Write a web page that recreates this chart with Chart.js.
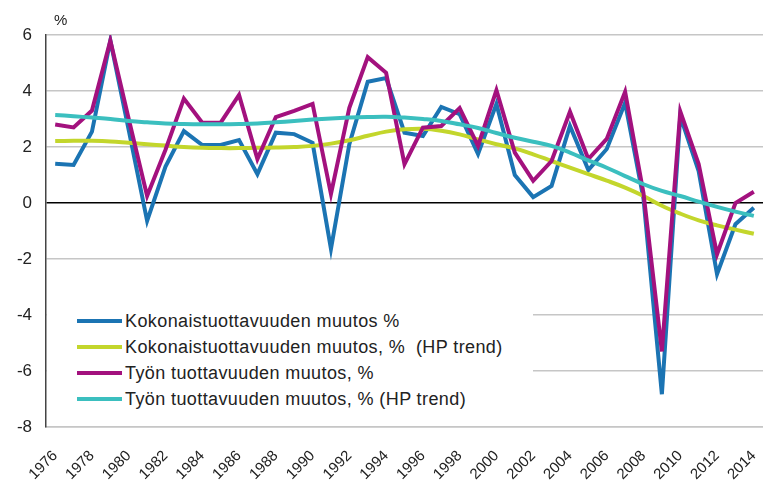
<!DOCTYPE html>
<html>
<head>
<meta charset="utf-8">
<script src="https://cdn.jsdelivr.net/npm/chart.js@4"></script>
<style>
    body { margin: 0; background: #fff; }
    #wrap { position: relative; width: 763px; height: 482px; }
    #unit { position: absolute; left: 54px; top: 11px; font: 15px 'Liberation Sans', Arial, sans-serif; color: #222; }
    #legend { position: absolute; left: 47px; top: 300px; width: 486px; height: 112px; background: #fff; }
    .rivi { position: absolute; left: 30px; height: 26px; display: flex; align-items: center; }
    .viiva { width: 45px; height: 4px; margin-right: 3px; }
    .teksti { font: 18px 'Liberation Sans', Arial, sans-serif; letter-spacing: 0.4px; color: #222; white-space: pre; }
</style>
</head>
<body>
<div id="wrap">
    <canvas id="kaavio"></canvas>
    <div id="unit">%</div>
    <div id="legend"></div>
</div>
<script>
// vuodet
const vuodet = ['1976', '1977', '1978', '1979', '1980', '1981', '1982', '1983', '1984', '1985',
    '1986', '1987', '1988', '1989', '1990', '1991', '1992', '1993', '1994', '1995',
    '1996', '1997', '1998', '1999', '2000', '2001', '2002', '2003', '2004', '2005',
    '2006', '2007', '2008', '2009', '2010', '2011', '2012', '2013', '2014'];

const kokonais = [1.4, 1.36, 2.55, 5.8, 2.6, -0.64, 1.3, 2.57, 2.07, 2.07,
    2.25, 1.03, 2.51, 2.46, 2.15, -1.64, 2.1, 4.33, 4.46, 2.51,
    2.39, 3.43, 3.17, 1.75, 3.54, 1.0, 0.21, 0.61, 2.75, 1.18,
    1.93, 3.58, 0.15, -6.83, 3.1, 1.14, -2.54, -0.76, -0.17];

const kokonaisTrendi = [2.21, 2.22, 2.22, 2.2, 2.15, 2.1, 2.05, 2.0, 1.97, 1.96,
    1.96, 1.97, 1.98, 2.0, 2.04, 2.12, 2.24, 2.4, 2.55, 2.63,
    2.65, 2.58, 2.45, 2.27, 2.1, 1.95, 1.74, 1.5, 1.26, 1.03,
    0.8, 0.55, 0.25, -0.1, -0.38, -0.62, -0.8, -0.95, -1.1];

const tyon = [2.8, 2.7, 3.3, 5.8, 3.0, 0.25, 1.9, 3.73, 2.87, 2.87,
    3.86, 1.57, 3.07, 3.29, 3.54, 0.32, 3.4, 5.21, 4.65, 1.39,
    2.69, 2.75, 3.39, 2.04, 4.03, 1.8, 0.79, 1.5, 3.26, 1.57,
    2.29, 3.97, 0.35, -5.3, 3.27, 1.39, -1.83, 0.0, 0.4];

const tyonTrendi = [3.14, 3.1, 3.05, 3.0, 2.93, 2.88, 2.84, 2.82, 2.81, 2.81,
    2.82, 2.84, 2.88, 2.93, 2.98, 3.02, 3.05, 3.07, 3.08, 3.05,
    3.0, 2.93, 2.81, 2.68, 2.5, 2.33, 2.19, 2.04, 1.8, 1.52,
    1.26, 0.96, 0.67, 0.43, 0.25, 0.05, -0.14, -0.31, -0.46];

const sarjat = [
    { nimi: 'Kokonaistuottavuuden muutos %', data: kokonais, vari: '#1b74b3', trendi: false },
    { nimi: 'Kokonaistuottavuuden muutos, %  (HP trend)', data: kokonaisTrendi, vari: '#c3d62c', trendi: true },
    { nimi: 'Työn tuottavuuden muutos, %', data: tyon, vari: '#a3117e', trendi: false },
    { nimi: 'Työn tuottavuuden muutos, % (HP trend)', data: tyonTrendi, vari: '#3bbfbf', trendi: true },
];

const fontti = "'Liberation Sans', Arial, sans-serif";

new Chart(document.getElementById('kaavio'), {
    type: 'line',
    data: {
        labels: vuodet,
        datasets: sarjat.map((s, i) => ({
            label: s.nimi,
            data: s.data,
            borderColor: s.vari,
            backgroundColor: s.vari,
            borderWidth: 4,
            pointRadius: 0,
            tension: s.trendi ? 0.4 : 0,
            order: sarjat.length - i,
        })),
    },
    options: {
        responsive: true,
        maintainAspectRatio: false,
        animation: false,
        layout: { padding: { top: 35, right: 0, left: 0, bottom: 0 } },
        plugins: { legend: { display: false }, tooltip: { enabled: false } },
        scales: {
            x: {
                offset: true,
                grid: { display: false },
                border: { color: '#c6c6c6', width: 1.5 },
                ticks: {
                    autoSkip: false,
                    minRotation: 45,
                    maxRotation: 45,
                    padding: 12,
                    color: '#222',
                    font: { family: fontti, size: 15 },
                    callback: (v, i) => (i % 2 === 0 ? vuodet[i] : ''),
                },
                afterFit: (s) => {
                    s.height = 55;
                    s.paddingLeft = 0;
                    s.paddingRight = 0;
                },
            },
            y: {
                min: -8,
                max: 6,
                ticks: {
                    stepSize: 2,
                    padding: 14,
                    color: '#222',
                    font: { family: fontti, size: 17 },
                },
                grid: {
                    drawTicks: false,
                    lineWidth: 1.5,
                    color: (c) => (c.tick && c.tick.value === 0 ? '#000' : '#c6c6c6'),
                },
                border: { color: '#444', width: 1.5 },
                afterFit: (s) => { s.width = 46; },
            },
        },
    },
});

// selite kaavion sisään
const selite = document.getElementById('legend');
sarjat.forEach((s, i) => {
    const rivi = document.createElement('div');
    rivi.className = 'rivi';
    rivi.style.top = (8 + i * 26) + 'px';
    rivi.innerHTML = `<div class="viiva" style="background:${s.vari}"></div><span class="teksti">${s.nimi}</span>`;
    selite.appendChild(rivi);
});
</script>
</body>
</html>
